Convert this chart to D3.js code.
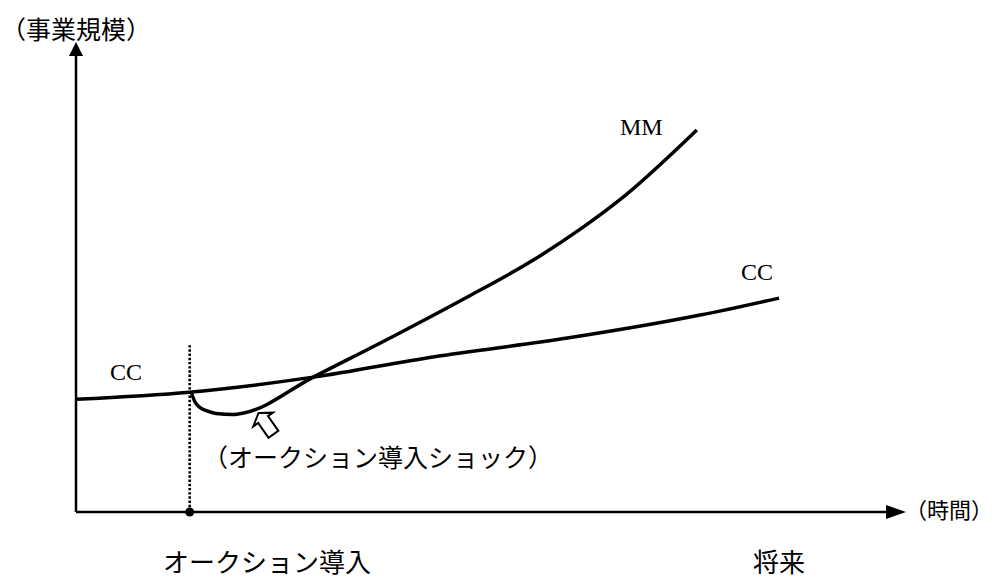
<!DOCTYPE html>
<html>
<head>
<meta charset="utf-8">
<script src="https://cdn.jsdelivr.net/npm/d3@7"></script>
<style>
  body { margin: 0; background: #fff; }
  svg { display: block; }
  .jp { font-family: "Noto Sans CJK JP", sans-serif; fill: #000; }
  .lbl { font-family: "Liberation Serif", serif; fill: #000; }
</style>
</head>
<body>
<div id="chart"></div>
<script>
// time (0-100) vs business scale (0-100)
const ccTime  = [0, 13.7, 28.6, 43.0, 59.2, 75.2, 84.7];
const ccScale = [24.0, 25.5, 28.7, 33.0, 37.0, 41.9, 45.5];

const mmTime  = [13.86, 14.34, 14.94, 15.78, 16.87, 18.92, 20.24, 28.6, 39.0, 47.1, 55.1, 61.1, 65.5, 74.8];
const mmScale = [25.53, 23.40, 22.23, 21.49, 20.96, 20.74, 21.06, 28.7, 38.1, 45.7, 53.6, 60.6, 66.4, 81.3];

const auctionTime = 13.7;
const dottedTop = 35.5;
const futureTime = 84.7;

const yAxisTitle = "（事業規模）";
const xAxisTitle = "（時間）";
const auctionLabel = "オークション導入";
const futureLabel = "将来";
const shockLabel = "（オークション導入ショック）";

const W = 995, H = 581;
const svg = d3.select("#chart").append("svg").attr("width", W).attr("height", H);

const x = d3.scaleLinear().domain([0, 100]).range([76, 906]);
const y = d3.scaleLinear().domain([0, 100]).range([512, 42]);

// axes
svg.append("line")
  .attr("x1", x(0)).attr("x2", x(100) - 14)
  .attr("y1", y(0)).attr("y2", y(0))
  .attr("stroke", "#000").attr("stroke-width", 2.5);
svg.append("path")
  .attr("d", `M${x(100)},${y(0)} L${x(100) - 20},${y(0) - 7} L${x(100) - 20},${y(0) + 7}Z`)
  .attr("fill", "#000");

svg.append("line")
  .attr("x1", x(0)).attr("x2", x(0))
  .attr("y1", y(0)).attr("y2", y(100) + 12)
  .attr("stroke", "#000").attr("stroke-width", 2.5);
svg.append("path")
  .attr("d", `M${x(0)},${y(100)} L${x(0) - 7},${y(100) + 14} L${x(0) + 7},${y(100) + 14}Z`)
  .attr("fill", "#000");

// dotted line at auction start
svg.append("line")
  .attr("x1", x(auctionTime)).attr("x2", x(auctionTime))
  .attr("y1", y(dottedTop)).attr("y2", y(0))
  .attr("stroke", "#000").attr("stroke-width", 2.6)
  .attr("stroke-dasharray", "2.4,1.8");
svg.append("circle")
  .attr("cx", x(auctionTime)).attr("cy", y(0)).attr("r", 4.5)
  .attr("fill", "#000");

const line = d3.line()
  .x(d => x(d[0]))
  .y(d => y(d[1]))
  .curve(d3.curveMonotoneX);

svg.append("path")
  .datum(d3.zip(ccTime, ccScale))
  .attr("d", line)
  .attr("fill", "none").attr("stroke", "#000").attr("stroke-width", 3.5);

svg.append("path")
  .datum(d3.zip(mmTime, mmScale))
  .attr("d", line)
  .attr("fill", "none").attr("stroke", "#000").attr("stroke-width", 3.5);

// hollow arrow pointing at the dip
svg.append("path")
  .attr("d", "M0,0 L-12,8 L-6,8 L-6,26 L6,26 L6,8 L12,8Z")
  .attr("transform", "translate(258.5,413) rotate(-35)")
  .attr("fill", "#fff").attr("stroke", "#000").attr("stroke-width", 2);

// texts
svg.append("text").attr("class", "jp")
  .attr("x", 1).attr("y", 39).attr("font-size", 25)
  .text(yAxisTitle);
svg.append("text").attr("class", "jp")
  .attr("x", 905).attr("y", 518).attr("font-size", 22)
  .text(xAxisTitle);
svg.append("text").attr("class", "jp")
  .attr("x", 267).attr("y", 572).attr("font-size", 26)
  .attr("text-anchor", "middle")
  .text(auctionLabel);
svg.append("text").attr("class", "jp")
  .attr("x", x(futureTime)).attr("y", 572).attr("font-size", 26)
  .attr("text-anchor", "middle")
  .text(futureLabel);
svg.append("text").attr("class", "jp")
  .attr("x", 203).attr("y", 467).attr("font-size", 25)
  .text(shockLabel);

svg.append("text").attr("class", "lbl")
  .attr("x", 110).attr("y", 380).attr("font-size", 24)
  .text("CC");
svg.append("text").attr("class", "lbl")
  .attr("x", 741).attr("y", 280).attr("font-size", 24)
  .text("CC");
svg.append("text").attr("class", "lbl")
  .attr("x", 620).attr("y", 135).attr("font-size", 24)
  .text("MM");
</script>
</body>
</html>
